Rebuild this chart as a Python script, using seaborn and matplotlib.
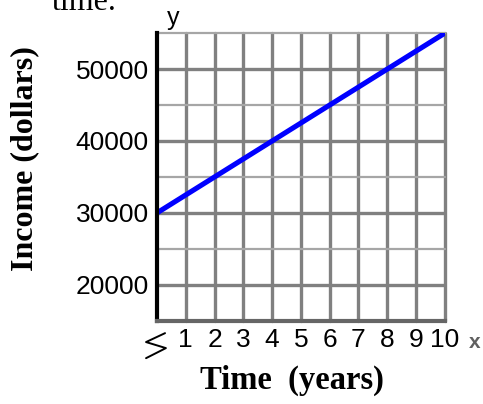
import matplotlib
matplotlib.use('Agg')
import matplotlib.pyplot as plt
import seaborn as sns
import pandas as pd

# values
years = [0, 1, 2, 3, 4, 5, 6, 7, 8, 9, 10]
income = [30000, 32500, 35000, 37500, 40000, 42500, 45000, 47500, 50000, 52500, 55000]
x_ticks = [1, 2, 3, 4, 5, 6, 7, 8, 9, 10]
y_major = [20000, 30000, 40000, 50000]
y_minor = [25000, 35000, 45000, 55000]

df = pd.DataFrame({'year': years, 'income': income})

sns.set_style('white')
plt.rcParams['font.family'] = ['Liberation Sans', 'DejaVu Sans']
plt.rcParams['text.color'] = 'black'

fig = plt.figure(figsize=(4.83, 4.04), dpi=100)
ax = fig.add_axes([0.325, 0.206, 0.596, 0.712])

sns.lineplot(data=df, x='year', y='income', ax=ax, color='#0000ff',
             linewidth=3.7, solid_capstyle='round', zorder=5)

ax.set_xlim(0, 10)
ax.set_ylim(15000, 55000)

# grid
for xv in x_ticks:
    ax.axvline(xv, color='#808080', linewidth=2.4, zorder=1, clip_on=False)
for yv in y_major:
    ax.axhline(yv, color='#808080', linewidth=2.4, zorder=1)
for yv in y_minor:
    ax.axhline(yv, color='#a6a6a6', linewidth=1.6, zorder=1, clip_on=False)

ax.set_xticks(x_ticks)
ax.set_xticklabels([str(v) for v in x_ticks])
ax.set_yticks(y_major)
ax.set_yticklabels([str(v) for v in y_major])
ax.tick_params(axis='both', length=0, labelsize=19, colors='black',
               labelcolor='black')
ax.tick_params(axis='y', pad=6)
ax.tick_params(axis='x', pad=5)
ax.set_xlabel('')
ax.set_ylabel('')

for side in ['top', 'right']:
    ax.spines[side].set_visible(False)
ax.spines['left'].set_color('black')
ax.spines['left'].set_linewidth(3.0)
ax.spines['left'].set_zorder(6)
ax.spines['bottom'].set_color('#666666')
ax.spines['bottom'].set_linewidth(3.0)
ax.spines['bottom'].set_zorder(6)

# axis break symbol near origin
ax.plot([0.028, -0.038, 0.031, -0.038], [-0.043, -0.074, -0.095, -0.13],
        transform=ax.transAxes, color='black', linewidth=1.4, clip_on=False)

# axis letters
fig.text(173 / 483, 1 - 18 / 404, 'y', fontsize=18, ha='center', va='center',
         color='black')
fig.text(475 / 483, 1 - 343 / 404, 'x', fontsize=15, fontweight='bold',
         ha='center', va='center', color='#606060')

serif = ['Liberation Serif', 'DejaVu Serif']
fig.text(25 / 483, 1 - 159 / 404, 'Income (dollars)', rotation=90,
         fontsize=23, fontweight='bold', family=serif, ha='center',
         va='center', color='black')
fig.text(292 / 483, 1 - 380 / 404, 'Time  (years)', fontsize=23.5,
         fontweight='bold', family=serif, ha='center', va='center',
         color='black')
fig.text(52 / 483, 1 - 10 / 404, 'time.', fontsize=23, family=serif,
         ha='left', va='baseline', color='black')

fig.savefig('out.png', dpi=100)
